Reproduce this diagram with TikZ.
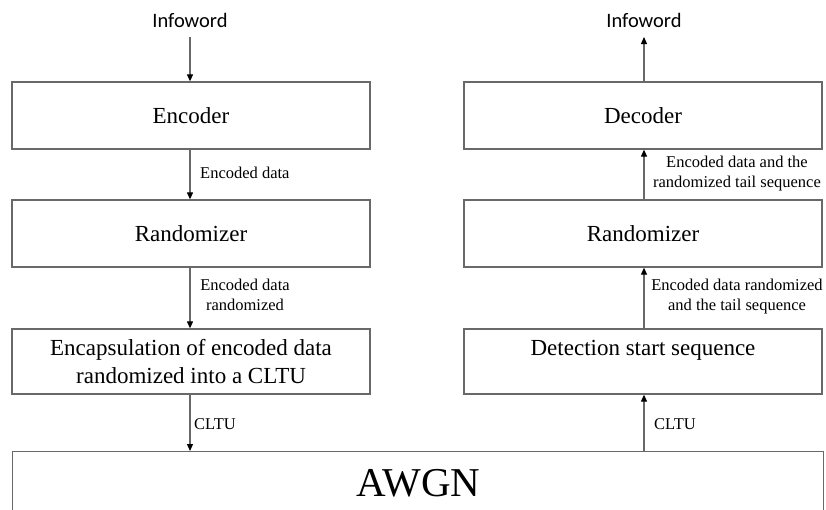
\documentclass[tikz,border=0pt]{standalone}
\usepackage{fontspec}
\setmainfont{Liberation Serif}
\newfontfamily\carlitofont{Carlito}
\usetikzlibrary{arrows.meta}
\definecolor{ln}{RGB}{105,105,105}
\begin{document}
\begin{tikzpicture}[x=1pt,y=-1pt,
  blk/.style={draw=ln,line width=1.3pt,minimum width=358pt,inner sep=0pt,align=center,font=\fontsize{23}{28}\selectfont},
  lbl/.style={inner sep=0pt,align=center,font=\fontsize{16.5}{20}\selectfont},
  inf/.style={inner sep=0pt,font=\carlitofont\fontsize{20.5}{24}\selectfont},
  arr/.style={draw=ln,line width=1.2pt,-{Triangle[length=7pt,width=6pt,color=black]}}]
\useasboundingbox (0,0) rectangle (826,509);
\fill[white] (0,0) rectangle (826,509);
% left column
\node[inf] (inL) at (190,20) {Infoword};
\node[blk,minimum height=67pt] (enc) at (191,115.5) {Encoder};
\node[blk,minimum height=67pt] (ranL) at (191,233.5) {Randomizer};
\node[blk,minimum height=65pt] (cap) at (191,361.5) {Encapsulation of encoded data\\randomized into a CLTU};
% right column
\node[inf] (inR) at (644,20) {Infoword};
\node[blk,minimum height=67pt] (dec) at (643,115.5) {Decoder};
\node[blk,minimum height=67pt] (ranR) at (643,233.5) {Randomizer};
\node[blk,minimum height=65pt] (det) at (643,361.5) {Detection start sequence\\\mbox{}};
% channel
\node[draw=ln,line width=1.3pt,minimum width=811pt,minimum height=64pt,inner sep=0pt,anchor=north west,font=\fontsize{41}{49}\selectfont] (awgn) at (12,451) {AWGN};
% coordinates on the columns
\coordinate (tL) at (190,37);
\coordinate (tR) at (644,37);
% left arrows
\draw[arr] (tL) -- (tL |- enc.north);
\draw[arr] (190,0 |- enc.south) -- (190,0 |- ranL.north);
\draw[arr] (190,0 |- ranL.south) -- (190,0 |- cap.north);
\draw[arr] (190,0 |- cap.south) -- (190,0 |- awgn.north);
% right arrows
\draw[arr] (tR |- dec.north) -- (tR);
\draw[arr] (644,0 |- ranR.north) -- (644,0 |- dec.south);
\draw[arr] (644,0 |- det.north) -- (644,0 |- ranR.south);
\draw[arr] (644,0 |- awgn.north) -- (644,0 |- det.south);
% labels
\node[lbl,anchor=west] (l1) at (200,173) {Encoded data};
\node[lbl] (l2) at (245,295) {Encoded data\\randomized};
\node[lbl,anchor=west] (l3) at (194,424) {CLTU};
\node[lbl] (r1) at (737,174) {Encoded data and the\\randomized tail sequence};
\node[lbl] (r2) at (737,297) {Encoded data randomized\\and the tail sequence};
\node[lbl,anchor=west] (r3) at (654,424) {CLTU};
\end{tikzpicture}
\end{document}
